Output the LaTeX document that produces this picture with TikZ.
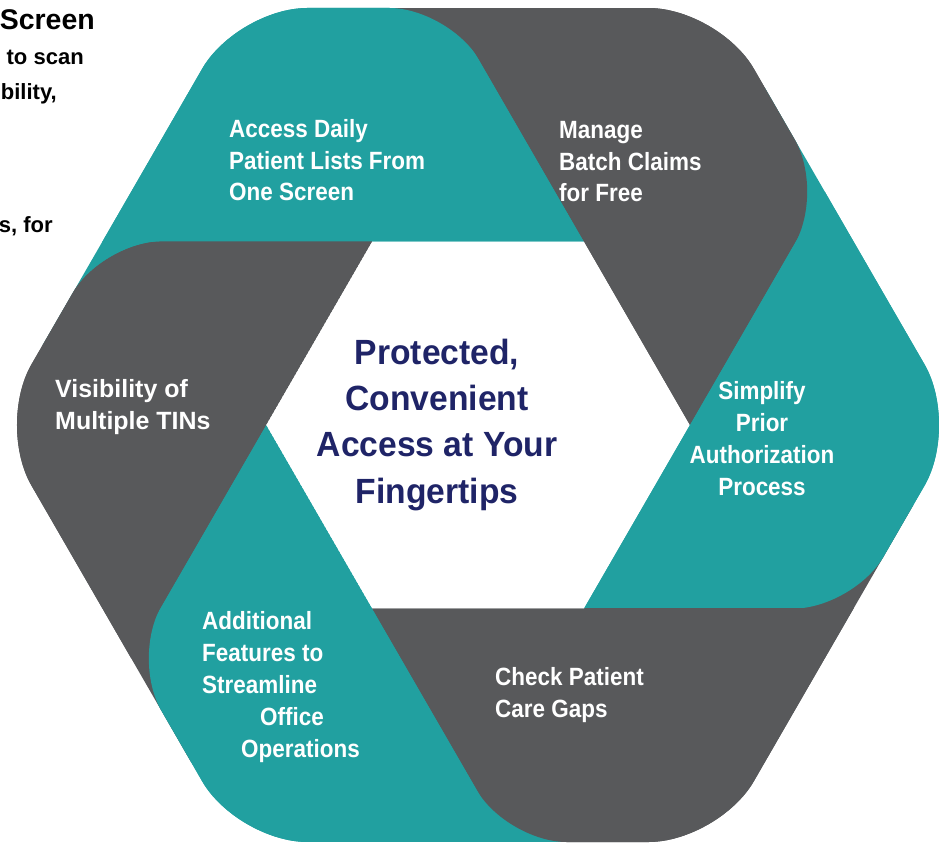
\documentclass[tikz,border=0pt]{standalone}
\usepackage{fontspec}
\setmainfont{Liberation Sans}
\newfontfamily\narrowsans{Liberation Sans}[FakeStretch=0.9]
\newfontfamily\hubsans{Liberation Sans}[FakeStretch=0.96]
\usetikzlibrary{positioning}

\definecolor{blockteal}{HTML}{21A0A0}
\definecolor{blockgray}{HTML}{58595B}
\definecolor{hubnavy}{HTML}{1F2467}

% one blade of the ring, drawn for the top position
\newcommand{\bladeoutline}{(106,183.6) -- (38.6,300.3)
    [rounded corners=18mm] -- (-28.8,417)
    [rounded corners=21mm] -- (-240.75,417) -- (-338,248.5)
    [sharp corners] -- (-435.3,80) -- (-106,183.6) -- cycle}

\begin{document}
\begin{tikzpicture}[x=0.3mm, y=0.3mm,
    label/.style={text=white, inner sep=0pt, anchor=base west, align=left,
        font=\narrowsans\bfseries\fontsize{21.3}{27.3}\selectfont},
    hub/.style={text=hubnavy, inner sep=0pt, anchor=base, align=center,
        font=\hubsans\bfseries\fontsize{29.9}{39.3}\selectfont},
    fragment/.style={text=black, inner sep=0pt, anchor=base east,
        font=\bfseries\fontsize{18.8}{22}\selectfont}
]

    \useasboundingbox (0,0) rectangle (939,844);

    % Blades -----------------------------------------------------

    \begin{scope}[shift={(478,419)}]
        \foreach \turn/\shade in {0/blockteal, -60/blockgray, -120/blockteal,
                -180/blockgray, -240/blockteal, -300/blockgray}
            \fill[\shade, rotate=\turn] \bladeoutline;
        \foreach \turn/\shade in {0/blockteal, -60/blockgray, -120/blockteal,
                -180/blockgray, -240/blockteal, -300/blockgray}{
            \begin{scope}[rotate=\turn]
                \clip (-600,183.6) rectangle (600,600);
                \fill[\shade] \bladeoutline;
            \end{scope}
        }
    \end{scope}

    % Nodes (anchored at the baseline of the last line) ----------

    \node[label] (access) at (229,643) {Access Daily\\Patient Lists From\\One Screen};
    \node[label] (manage) at (559,642) {Manage\\Batch Claims\\for Free};
    \node[label, anchor=base, align=center] (simplify) at (762,349)
        {Simplify\\Prior\\Authorization\\Process};
    \node[label] (checkgaps) at (495,127) {Check Patient\\Care Gaps};
    \node[label] (additional) at (202,87)
        {Additional\\Features to\\Streamline\\\hspace*{17.4mm}Office\\\hspace*{11.7mm}Operations};
    \node[label, font=\bfseries\fontsize{21.3}{27.3}\selectfont] (visibility) at (55,415)
        {Visibility of\\Multiple TINs};
    \node[hub] (hub) at (437,341) {Protected,\\Convenient\\Access at Your\\Fingertips};

    \node[fragment, font=\bfseries\fontsize{24.3}{28}\selectfont] (screenfrag) at (95,814) {Screen};
    \node[fragment] (scanfrag) at (84,779) {to scan};
    \node[fragment] (bilityfrag) at (57,744) {bility,};
    \node[fragment] (forfrag) at (53,611) {s, for};

\end{tikzpicture}
\end{document}
